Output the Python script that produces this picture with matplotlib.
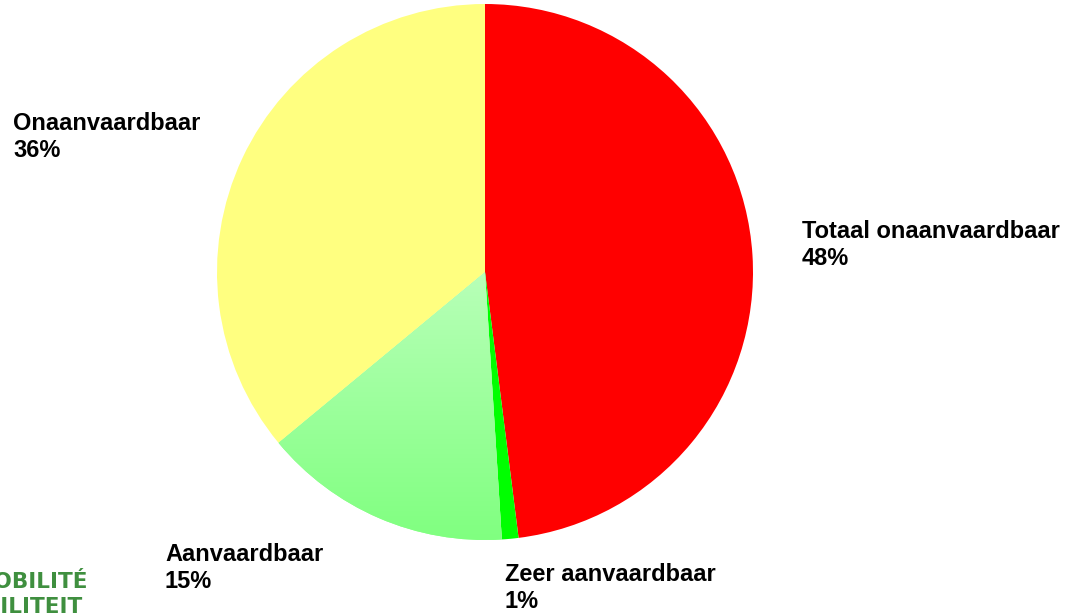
import numpy as np
import matplotlib
matplotlib.use("Agg")
import matplotlib.pyplot as plt
from matplotlib.colors import LinearSegmentedColormap

labels = ["Totaal onaanvaardbaar", "Zeer aanvaardbaar", "Aanvaardbaar", "Onaanvaardbaar"]
shares = [48, 1, 15, 36]
colors = ["#ff0000", "#00ff00", "#8dff8d", "#ffff80"]

# where each label's top-left corner sits, in pixels from the top-left of the figure
label_pos = [(802, 220), (505, 563), (165, 543), (13, 112)]

W, H = 1066, 616
fig = plt.figure(figsize=(W / 100, H / 100), dpi=100)

cx, cy, r = 485, 272, 268
ax = fig.add_axes([(cx - r) / W, (H - cy - r) / H, 2 * r / W, 2 * r / H])
wedges, _ = ax.pie(shares, colors=colors, startangle=90, counterclock=False,
                   radius=1.0, wedgeprops=dict(linewidth=0))
ax.set_xlim(-1, 1)
ax.set_ylim(-1, 1)
ax.set_aspect("equal")
ax.axis("off")

# light-to-darker green shading on the "Aanvaardbaar" wedge
grad = LinearSegmentedColormap.from_list("g", ["#80ff80", "#b8ffb8"])
gy = np.linspace(-1, 0, 200).reshape(-1, 1)
img = ax.imshow(gy, cmap=grad, extent=[-1, 1, -1, 0], origin="lower",
                aspect="auto", zorder=2)
img.set_clip_path(wedges[2])
ax.set_xlim(-1, 1)
ax.set_ylim(-1, 1)

for name, pct, (px, py) in zip(labels, shares, label_pos):
    fig.text(px / W, 1 - py / H, f"{name}\n{pct}%", ha="left", va="top",
             fontsize=17, fontweight="bold", family="Liberation Sans",
             linespacing=1.22, color="black")

# logo lettering running off the lower-left corner
logo_green = "#3f8f3f"
fig.text(88 / W, 1 - 588 / H, "MOBILITÉ", ha="right", va="baseline",
         fontsize=15.5, fontweight="bold", color=logo_green, family="DejaVu Sans")
fig.text(82 / W, 1 - 613 / H, "MOBILITEIT", ha="right", va="baseline",
         fontsize=15.5, fontweight="bold", color=logo_green, family="DejaVu Sans")

fig.savefig("out.png", dpi=100)
